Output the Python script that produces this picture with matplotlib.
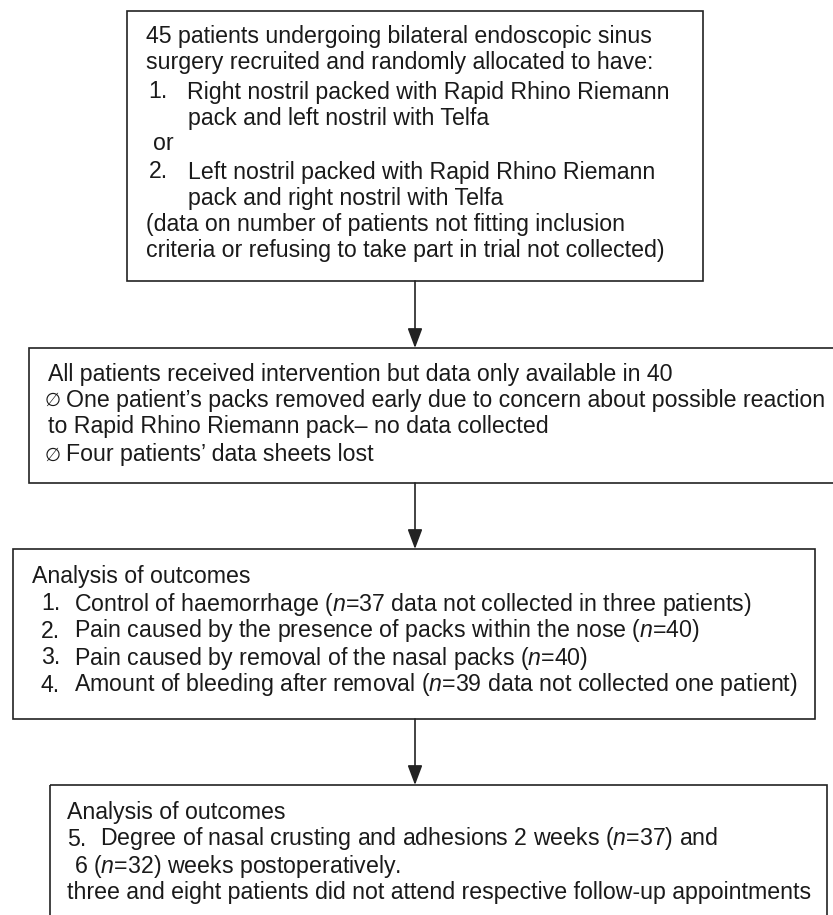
import matplotlib
matplotlib.use("Agg")
import matplotlib.pyplot as plt
from matplotlib.patches import Rectangle

FAM = ['Liberation Sans', 'DejaVu Sans']
plt.rcParams['font.family'] = FAM
plt.rcParams['mathtext.fontset'] = 'custom'
plt.rcParams['mathtext.it'] = 'Liberation Sans:italic'
plt.rcParams['mathtext.rm'] = 'Liberation Sans'

W, H = 833, 915
FS = 16.7

# Boxes: (left, top, right, bottom) in pixel coordinates
box_edges = [(127, 11, 703, 281), (29, 348, 834, 483), (13, 549, 815, 719), (50, 785, 827, 930)]
arrow_x = 415

# Text lines: (x, y, text)
box1_lines = [
    (146, 37, "45 patients undergoing bilateral endoscopic sinus"),
    (146, 63, "surgery recruited and randomly allocated to have:"),
    (148, 92, "1."), (187, 92, "Right nostril packed with Rapid Rhino Riemann"),
    (188, 118, "pack and left nostril with Telfa"),
    (153, 143, "or"),
    (149, 172, "2."), (188, 172, "Left nostril packed with Rapid Rhino Riemann"),
    (188, 198, "pack and right nostril with Telfa"),
    (146, 225, "(data on number of patients not fitting inclusion"),
    (146, 251, "criteria or refusing to take part in trial not collected)"),
]
box2_lines = [
    (48, 375, "All patients received intervention but data only available in 40"),
    (45, 401, "\u2205"), (66, 400, "One patient\u2019s packs removed early due to concern about possible reaction"),
    (48, 427, "to Rapid Rhino Riemann pack\u2013 no data collected"),
    (45, 456, "\u2205"), (66, 455, "Four patients\u2019 data sheets lost"),
]
box3_lines = [
    (32, 577, "Analysis of outcomes"),
    (41, 604, "1."), (74, 604, "Control of haemorrhage ($n$=37 data not collected in three patients)"),
    (41, 631, "2."), (74, 631, "Pain caused by the presence of packs within the nose ($n$=40)"),
    (41, 658, "3."), (74, 658, "Pain caused by removal of the nasal packs ($n$=40)"),
    (41, 685, "4."), (74, 685, "Amount of bleeding after removal ($n$=39 data not collected one patient)"),
]
box4_lines = [
    (67, 812, "Analysis of outcomes"),
    (67, 839, "5."), (100, 839, "Degree of nasal crusting and adhesions 2 weeks ($n$=37) and"),
    (74, 867, "6 ($n$=32) weeks postoperatively."),
    (67, 893, "three and eight patients did not attend respective follow-up appointments"),
]

fig = plt.figure(figsize=(W / 100, H / 100), dpi=100)
ax = fig.add_axes([0, 0, 1, 1])
ax.set_xlim(0, W)
ax.set_ylim(H, 0)
ax.axis('off')

for (l, t, r, b) in box_edges:
    ax.add_patch(Rectangle((l, t), r - l, b - t, fill=False, edgecolor='#222222', lw=1.2))

for i in range(len(box_edges) - 1):
    y0 = box_edges[i][3]
    y1 = box_edges[i + 1][1]
    ax.annotate('', xy=(arrow_x, y1), xytext=(arrow_x, y0),
                arrowprops=dict(arrowstyle='-|>,head_length=1.2,head_width=0.45',
                                color='#222222', lw=1.2, shrinkA=0, shrinkB=0))

for lines in (box1_lines, box2_lines, box3_lines, box4_lines):
    for x, y, s in lines:
        size = FS * 0.8 if s == "\u2205" else FS
        ax.text(x, y, s, fontsize=size, ha='left', va='center', color='#1a1a1a')

fig.savefig('out.png', dpi=100)
